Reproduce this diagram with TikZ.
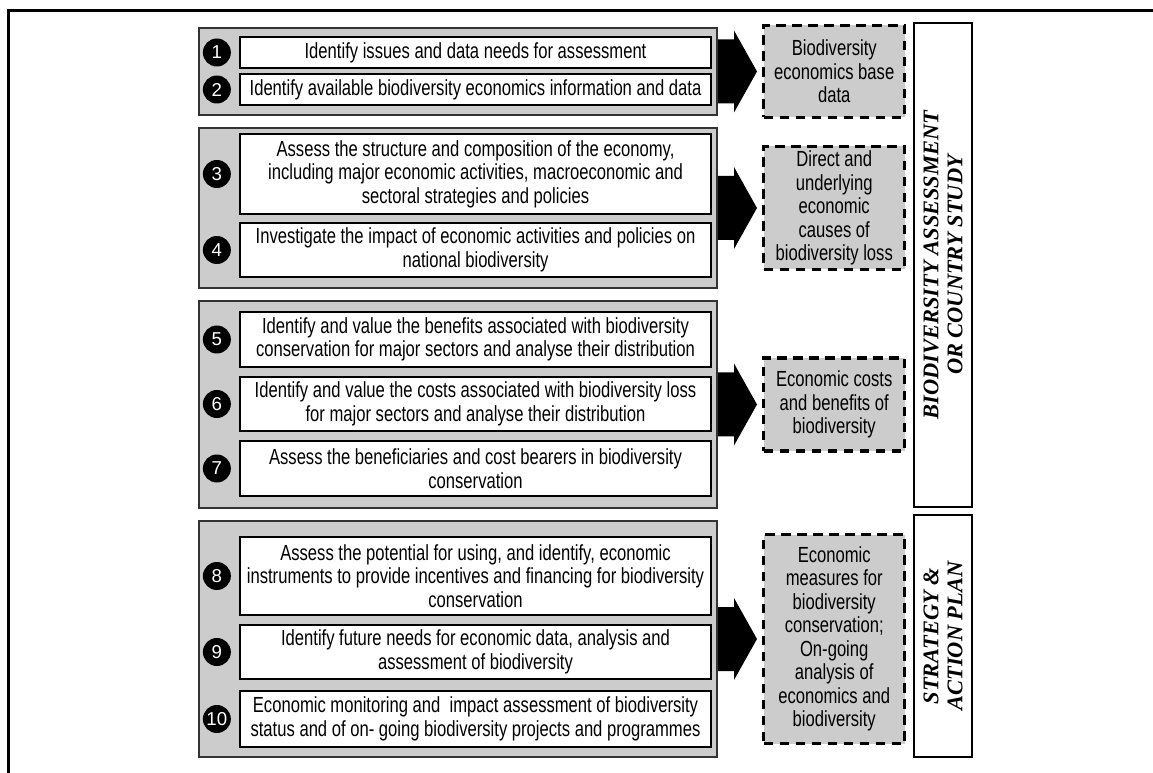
\documentclass[tikz,border=0pt]{standalone}
\usepackage{fontspec}
\setmainfont{Liberation Sans}[FakeStretch=0.76]
\newfontfamily\chiffres{Liberation Sans}
\newfontfamily\titre{Liberation Serif}
\usetikzlibrary{positioning,calc}
\begin{document}
\begin{tikzpicture}[x=0.75pt,y=-0.75pt]
	% Styles
	\tikzstyle{cadre}=[line width=2.25pt]
	\tikzstyle{groupe}=[draw=black!80,fill=gray!40,line width=1.5pt,inner sep=0pt,minimum width=\LargGroupe*\px]
	\tikzstyle{etape}=[draw=black,fill=white,line width=1.3pt,inner sep=0pt,minimum width=\LargEtape*\px,align=center,font=\fontsize{16.4}{17.6}\selectfont]
	\tikzstyle{puce}=[circle,fill=black,text=white,inner sep=0pt,minimum size=28*\px,font=\chiffres\fontsize{14}{14}\selectfont]
	\tikzstyle{resultat}=[draw=black,fill=gray!40,line width=2.6pt,dash pattern=on 7pt off 5pt,inner sep=0pt,minimum width=141*\px,align=center,font=\fontsize{16.4}{17.6}\selectfont]
	\tikzstyle{bandeau}=[draw=black,fill=white,line width=1.4pt,rotate=90,inner sep=0pt,minimum height=58*\px,align=center,font=\titre\bfseries\itshape\fontsize{16.8}{18}\selectfont]
	\tikzstyle{fleche}=[fill=black]
	% Dimensions
	\def\px{0.75pt}
	\def\ColGroupe{458}
	\def\ColEtape{475.5}
	\def\ColBandeau{943}
	\def\LargGroupe{518}
	\def\LargEtape{471}
	\def\Ecart{33pt}
	\def\Tige{16}
	\def\DemiTige{32}
	\def\DemiTete{41}
	\useasboundingbox (0,0) rectangle (1153,773);
	\draw[cadre] (8,773) -- (8,11) -- (1153,11);
	% Groupes
	\node[groupe,minimum height=87*\px] (G1) at (\ColGroupe,71.5) {};
	\node[groupe,minimum height=160*\px] (G2) at (\ColGroupe,208) {};
	\node[groupe,minimum height=207*\px] (G3) at (\ColGroupe,404.5) {};
	\node[groupe,minimum height=236*\px] (G4) at (\ColGroupe,639) {};
	% Etapes
	\node[etape,minimum height=31*\px] (E1) at (\ColEtape,52.5) {Identify issues and data needs for assessment};
	\node[etape,minimum height=31*\px] (E2) at (\ColEtape,89.5) {Identify available biodiversity economics information and data};
	\node[etape,minimum height=80*\px] (E3) at (\ColEtape,174) {Assess the structure and composition of the economy,\\including major economic activities, macroeconomic and\\sectoral strategies and policies};
	\node[etape,minimum height=54*\px] (E4) at (\ColEtape,250) {Investigate the impact of economic activities and policies on\\national biodiversity};
	\node[etape,minimum height=55*\px] (E5) at (\ColEtape,339.5) {Identify and value the benefits associated with biodiversity\\conservation for major sectors and analyse their distribution};
	\node[etape,minimum height=54*\px] (E6) at (\ColEtape,404) {Identify and value the costs associated with biodiversity loss\\for major sectors and analyse their distribution};
	\node[etape,minimum height=55*\px] (E7) at (\ColEtape,468.5) {Assess the beneficiaries and cost bearers in biodiversity\\conservation};
	\node[etape,minimum height=78*\px] (E8) at (\ColEtape,576) {Assess the potential for using, and identify, economic\\instruments to provide incentives and financing for biodiversity\\conservation};
	\node[etape,minimum height=54*\px] (E9) at (\ColEtape,652) {Identify future needs for economic data, analysis and\\assessment of biodiversity};
	\node[etape,minimum height=56*\px] (E10) at (\ColEtape,719) {Economic monitoring and\ \ impact assessment of biodiversity\\status and of on- going biodiversity projects and programmes};
	% Numeros
	\node[puce,left=6pt of E1] (N1) {1};
	\node[puce,left=6pt of E2] (N2) {2};
	\node[puce,left=6pt of E3] (N3) {3};
	\node[puce,left=6pt of E4] (N4) {4};
	\node[puce,left=6pt of E5] (N5) {5};
	\node[puce,left=6pt of E6] (N6) {6};
	\node[puce,left=6pt of E7] (N7) {7};
	\node[puce,left=6pt of E8] (N8) {8};
	\node[puce,left=6pt of E9] (N9) {9};
	\node[puce,left=6pt of E10] (N10) {10};
	% Resultats
	\node[resultat,minimum height=92*\px,right=\Ecart of G1] (S1) {Biodiversity\\economics base\\data};
	\node[resultat,minimum height=123*\px,right=\Ecart of G2] (S2) {Direct and\\underlying\\economic\\causes of\\biodiversity loss};
	\node[resultat,minimum height=93*\px,right=\Ecart of G3] (S3) {Economic costs\\and benefits of\\biodiversity};
	\node[resultat,minimum height=209*\px,right=\Ecart of G4] (S4) {Economic\\measures for\\biodiversity\\conservation;\\On-going\\analysis of\\economics and\\biodiversity};
	% Bandeaux
	\node[bandeau,minimum width=484*\px] (T1) at (\ColBandeau,265) {BIODIVERSITY ASSESSMENT\\OR COUNTRY STUDY};
	\node[bandeau,minimum width=242*\px] (T2) at (\ColBandeau,636) {STRATEGY \&\\ACTION PLAN};
	% Fleches
	\fill[fleche] ($(G1.east)+(0,-\DemiTige)$) -- ++(\Tige,0) -- ++(0,\DemiTige-\DemiTete) -- ($(S1.west)+(-5,0)$) -- ($(G1.east)+(\Tige,\DemiTete)$) -- ++(0,\DemiTige-\DemiTete) -- ($(G1.east)+(0,\DemiTige)$) -- cycle;
	\fill[fleche] ($(G2.east)+(0,-\DemiTige)$) -- ++(\Tige,0) -- ++(0,\DemiTige-\DemiTete) -- ($(S2.west)+(-5,0)$) -- ($(G2.east)+(\Tige,\DemiTete)$) -- ++(0,\DemiTige-\DemiTete) -- ($(G2.east)+(0,\DemiTige)$) -- cycle;
	\fill[fleche] ($(G3.east)+(0,-\DemiTige)$) -- ++(\Tige,0) -- ++(0,\DemiTige-\DemiTete) -- ($(S3.west)+(-5,0)$) -- ($(G3.east)+(\Tige,\DemiTete)$) -- ++(0,\DemiTige-\DemiTete) -- ($(G3.east)+(0,\DemiTige)$) -- cycle;
	\fill[fleche] ($(G4.east)+(0,-\DemiTige)$) -- ++(\Tige,0) -- ++(0,\DemiTige-\DemiTete) -- ($(S4.west)+(-5,0)$) -- ($(G4.east)+(\Tige,\DemiTete)$) -- ++(0,\DemiTige-\DemiTete) -- ($(G4.east)+(0,\DemiTige)$) -- cycle;
\end{tikzpicture}
\end{document}
